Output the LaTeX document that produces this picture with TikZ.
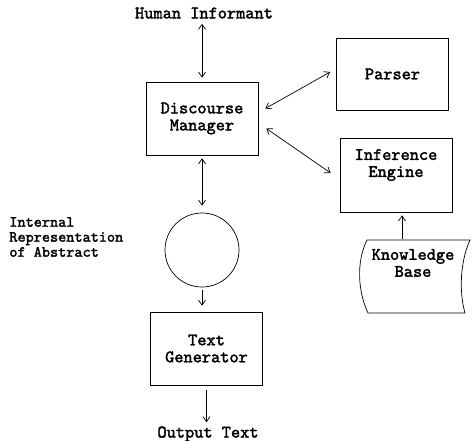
\documentclass[tikz,border=0pt]{standalone}
\usepackage{fontspec}
\newfontfamily\typefont[FakeBold=2]{lmmono10-regular.otf}
\usetikzlibrary{arrows.meta}
\begin{document}
\begin{tikzpicture}[x=1pt,y=-1pt,line width=0.7pt,
  >={Straight Barb[length=5pt,width=7pt]},
  lbl/.style={font=\fontsize{17.5}{17}\typefont,align=center,inner sep=1pt},
  box/.style={lbl,draw,minimum width=112pt,minimum height=73pt,inner sep=0pt}]
\useasboundingbox (0,0) rectangle (472,440);
% boxes
\node[lbl] (hi) at (204,13) {Human Informant};
\node[box] (dm) at (202,118.5) {Discourse\\Manager};
\node[box,minimum height=72pt] (parser) at (392.5,74) {Parser};
\node[box,minimum height=74pt] (ie) at (396,175) {};
\node[lbl] (ie-lbl) at ([yshift=10pt]ie.center) {Inference\\Engine};
\node[draw,circle,minimum size=74pt,inner sep=0pt] (irep) at (202,250) {};
\node[lbl,align=left,anchor=west,font=\fontsize{15.5}{15}\typefont] (irep-lbl) at (8,237) {Internal\\Representation\\of Abstract};
\node[box] (tg) at (206.5,348.5) {Text\\Generator};
\node[lbl] (out) at (208,434) {Output Text};
% knowledge base
\draw (367,240) -- (470,240) .. controls (460,262) and (459,292) .. (465,313)
  -- (368,313) .. controls (358,292) and (356,262) .. cycle;
\node[lbl] (kb) at (413,263) {Knowledge\\Base};
\coordinate (kb-top) at (402,239);
% connectors
\draw[<->,shorten <=4pt,shorten >=4pt] (hi.south -| dm.north) -- (dm.north);
\draw[<->] ([shift={(7,-10)}]dm.east) -- ([shift={(-6,-2)}]parser.west);
\draw[<->] ([shift={(8,10)}]dm.east) -- ([shift={(-9,-2)}]ie.west);
\draw[<->,shorten <=3pt,shorten >=7pt] (dm.south) -- (irep.north);
\draw[->,shorten <=3pt,shorten >=6pt] (irep.south) -- (irep.south |- tg.north);
\draw[->,shorten <=5pt,shorten >=3pt] (tg.south) -- (tg.south |- out.north);
\draw[->,shorten >=3pt] (kb-top) -- (kb-top |- ie.south);
\end{tikzpicture}
\end{document}
